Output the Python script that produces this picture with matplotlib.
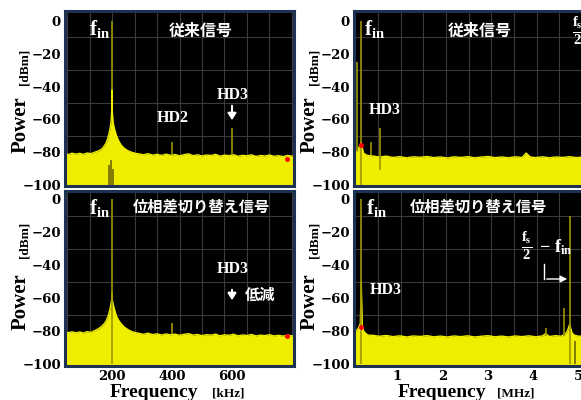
import numpy as np
import matplotlib
matplotlib.use('Agg')
import matplotlib.pyplot as plt

plt.rcParams['mathtext.fontset'] = 'custom'
plt.rcParams['mathtext.rm'] = 'Liberation Serif:bold'
plt.rcParams['mathtext.it'] = 'Liberation Serif:bold'
plt.rcParams['mathtext.bf'] = 'Liberation Serif:bold'
plt.rcParams['mathtext.default'] = 'rm'

# ---- data ----
# left column (kHz): skirt around fin + noise floor
left_skirt_f = [43, 55, 67, 80, 92, 105, 117, 130, 142, 155, 165, 173, 180, 186, 190, 194, 197, 199, 200, 201,
                203, 206, 210, 215, 222, 230, 240, 252, 265, 278]
left_floor_f = [290, 305, 320, 335, 350, 365, 380, 395, 410, 425, 440, 455, 470, 485, 500, 515, 530, 545, 560, 575,
                590, 605, 620, 635, 650, 665, 680, 695, 710, 725, 740, 755, 770, 785, 800, 807]
tl_skirt_p = [-80.8, -81.4, -80.6, -81.2, -80.7, -81.3, -80.5, -80.9, -80.0, -79.2, -78.2, -76.5, -74.5, -71.5, -68.5, -65, -61, -55, -42, -55,
              -61, -64, -67, -70, -73, -75.5, -77.5, -79, -80, -80.7]
tl_floor_p = [-81.0, -81.6, -80.9, -81.8, -81.3, -82.0, -81.2, -81.9, -81.4, -82.2, -81.5, -81.0, -82.1, -81.6, -82.3, -81.7, -82.0, -81.3, -82.4, -81.8,
              -82.1, -81.5, -82.5, -81.9, -82.2, -81.6, -82.6, -82.0, -82.3, -81.7, -82.5, -82.1, -82.7, -82.0, -82.4, -82.3]
bl_skirt_p = [-80.4, -81.0, -80.5, -81.1, -80.6, -81.2, -80.4, -80.8, -79.8, -78.6, -77.2, -75.8, -74, -71.5, -69, -66, -63, -61, -57, -61,
              -63, -65.5, -68, -71, -73.5, -75.5, -77.5, -79, -80.3, -81]
bl_floor_p = [-81.4, -82.0, -81.3, -82.2, -81.7, -82.4, -81.8, -82.3, -81.9, -82.6, -82.0, -81.6, -82.5, -82.1, -82.8, -82.2, -82.5, -81.9, -82.9, -82.3,
              -82.6, -82.0, -82.9, -82.4, -82.7, -82.1, -83.0, -82.5, -82.8, -82.2, -83.0, -82.6, -83.1, -82.5, -82.9, -83.0]

# right column (MHz)
right_skirt_f = [0.04, 0.08, 0.12, 0.15, 0.18, 0.2, 0.22, 0.25, 0.3, 0.35]
tr_floor_f = [0.45, 0.6, 0.75, 0.9, 1.05, 1.2, 1.35, 1.5, 1.65, 1.8, 1.95, 2.1, 2.25, 2.4, 2.55, 2.7, 2.85, 3.0, 3.15, 3.3,
              3.45, 3.6, 3.75, 3.84, 3.93, 4.05, 4.2, 4.35, 4.5, 4.65, 4.8, 4.95, 5.1, 5.25, 5.47]
tr_skirt_p = [-80, -79.5, -79, -77, -75, -74, -77, -80.5, -81.5, -82]
tr_floor_p = [-82.3, -82.9, -82.4, -83.2, -82.7, -83.4, -82.8, -83.1, -82.6, -83.3, -82.9, -83.5, -82.8, -83.2, -82.7, -83.4, -83.0, -82.6, -83.3, -82.9,
              -83.4, -82.8, -83.2, -80.5, -82.9, -83.3, -82.8, -83.4, -82.9, -83.2, -82.7, -83.3, -82.9, -83.2, -83.0]
br_floor_f = [0.45, 0.6, 0.75, 0.9, 1.05, 1.2, 1.35, 1.5, 1.65, 1.8, 1.95, 2.1, 2.25, 2.4, 2.55, 2.7, 2.85, 3.0, 3.15, 3.3,
              3.45, 3.6, 3.75, 3.9, 4.05, 4.2, 4.27, 4.35, 4.5, 4.6, 4.7, 4.75, 4.78, 4.8, 4.82, 4.85, 4.9, 5.0, 5.15, 5.3, 5.47]
br_skirt_p = [-81, -80, -79, -77.5, -75.5, -50, -76, -80, -81.5, -82.5]
br_floor_p = [-82.6, -83.2, -82.7, -83.4, -82.9, -83.6, -83.0, -83.3, -82.8, -83.5, -83.1, -83.6, -83.0, -83.4, -82.9, -83.6, -83.2, -82.8, -83.5, -83.1,
              -83.6, -83.0, -83.4, -82.9, -83.5, -83.0, -81.5, -83.3, -82.8, -83.2, -82, -80, -77.5, -76, -78, -81, -82.5, -83.2, -82.8, -83.3, -83.0]

# spectral lines (freq, bottom, top)
tl_lines = [(200, -42, 0), (400, -81.5, -74), (600, -82, -65)]
tl_dark = [(190, -100, -88), (196, -100, -85), (204, -100, -90)]
bl_lines = [(200, -100, 0), (400, -82, -75.3)]
tr_lines = [(0.2, -100, 0), (0.1, -79, -25), (0.42, -82, -74), (0.62, -91, -65)]
br_lines = [(0.2, -100, 0), (4.8, -100, -10), (4.67, -83, -66), (4.27, -83, -78)]
br_dark = [(4.92, -100, -86)]
markers = {'tl': (785, -84), 'bl': (785, -83), 'tr': (0.19, -75.5), 'br': (0.19, -77.5)}

y_ticks = [0, -20, -40, -60, -80, -100]
left_xticks = [200, 400, 600]
right_xticks = [1, 2, 3, 4, 5]

YELLOW = '#f0ee00'
OLIVE = '#9c9400'
DARK = '#6e6800'
NAVY = '#1d3152'
W, H = 581, 400


def box(x0, y0, x1, y1):
    return [x0 / W, 1 - y1 / H, (x1 - x0) / W, (y1 - y0) / H]


def px(x, y):
    return x / W, 1 - y / H


fig = plt.figure(figsize=(5.81, 4.0), dpi=100)

panels = {
    'tl': (box(65, 11, 294, 186), left_skirt_f + left_floor_f, tl_skirt_p + tl_floor_p, tl_lines, tl_dark,
           (43.3, 806.7), (-100.6, 6.1)),
    'bl': (box(65, 191, 294, 366), left_skirt_f + left_floor_f, bl_skirt_p + bl_floor_p, bl_lines, [],
           (43.3, 806.7), (-101.2, 4.85)),
    'tr': (box(354, 11, 600, 186), right_skirt_f + tr_floor_f, tr_skirt_p + tr_floor_p, tr_lines, [],
           (0.04, 5.47), (-100.6, 6.1)),
    'br': (box(354, 191, 600, 366), right_skirt_f + br_floor_f, br_skirt_p + br_floor_p, br_lines, br_dark,
           (0.04, 5.47), (-101.2, 4.85)),
}

for key, (pos, f, p, lines, dark, xl, yl) in panels.items():
    ax = fig.add_axes(pos)
    ax.set_facecolor('black')
    ax.fill_between(f, -110, p, color=YELLOW, lw=0, zorder=2)
    ax.plot(f, p, color=YELLOW, lw=1.0, zorder=2)
    for fx, lo, hi in lines:
        ax.vlines(fx, lo, hi, color=OLIVE, lw=1.2, zorder=3)
    for fx, lo, hi in dark:
        ax.vlines(fx, lo, hi, color=DARK, lw=1.2, zorder=3)
    mx, my = markers[key]
    ax.plot(mx, my, 'o', color='red', ms=2.5, zorder=4)
    ax.set_xlim(*xl)
    ax.set_ylim(*yl)
    if key in ('tl', 'bl'):
        ax.set_xticks(np.arange(50, 801, 75), minor=True)
    else:
        ax.set_xticks(np.arange(0.07, 5.5, 0.5), minor=True)
    ax.set_yticks(np.arange(-100, 1, 10), minor=True)
    ax.grid(which='minor', color='#3a3a3a', lw=0.8, zorder=1)
    ax.set_yticks(y_ticks)
    ax.set_yticklabels([str(v).replace('-', '\u2212') for v in y_ticks],
                       family='DejaVu Serif', fontweight='bold', fontsize=9.5)
    if key == 'bl':
        ax.set_xticks(left_xticks)
        ax.set_xticklabels([str(v) for v in left_xticks], family='DejaVu Serif', fontweight='bold', fontsize=9.5)
    elif key == 'br':
        ax.set_xticks(right_xticks)
        ax.set_xticklabels([str(v) for v in right_xticks], family='DejaVu Serif', fontweight='bold', fontsize=9.5)
    else:
        ax.set_xticks([])
    ax.tick_params(which='both', length=0, pad=3)
    for s in ax.spines.values():
        s.set_color(NAVY)
        s.set_linewidth(2.2)

# axis labels
serif = 'Liberation Serif'
for x0, yc_pow, yc_dbm in [(21, 125, 67), (310, 125, 67), (21, 302, 240), (310, 302, 240)]:
    fig.text(*px(x0, yc_pow), 'Power', rotation=90, ha='center', va='center',
             family=serif, fontweight='bold', fontsize=15)
    fig.text(*px(x0 + 4, yc_dbm), '[dBm]', rotation=90, ha='center', va='center',
             family=serif, fontweight='bold', fontsize=9.5)
for xc, unit, xu in [(154, '[kHz]', 228), (442, '[MHz]', 516)]:
    fig.text(*px(xc, 397), 'Frequency', ha='center', va='baseline',
             family=serif, fontweight='bold', fontsize=14)
    fig.text(*px(xu, 396), unit, ha='center', va='baseline',
             family=serif, fontweight='bold', fontsize=9.5)

cjk = ['Noto Sans CJK JP', 'DejaVu Sans']
white = 'white'


def arrow(p0, p1, lw=1.5, hw=2.5):
    fig.patches.append(matplotlib.patches.FancyArrowPatch(px(*p0), px(*p1), transform=fig.transFigure,
                                                          arrowstyle=f'-|>,head_length=4,head_width={hw}',
                                                          color=white, lw=lw))


# top-left
fig.text(*px(100, 29), r'$f_{in}$', color=white, ha='center', va='center', fontsize=15)
fig.text(*px(201, 31), '従来信号', color=white, ha='center', va='center', family=cjk, fontweight='bold', fontsize=11.5)
fig.text(*px(173, 118), 'HD2', color=white, ha='center', va='center', family=serif, fontweight='bold', fontsize=11.5)
fig.text(*px(233, 95), 'HD3', color=white, ha='center', va='center', family=serif, fontweight='bold', fontsize=11.5)
arrow((232, 103), (232, 123))

# top-right
fig.text(*px(375, 29), r'$f_{in}$', color=white, ha='center', va='center', fontsize=15)
fig.text(*px(480, 31), '従来信号', color=white, ha='center', va='center', family=cjk, fontweight='bold', fontsize=11.5)
fig.text(*px(385, 110), 'HD3', color=white, ha='center', va='center', family=serif, fontweight='bold', fontsize=11.5)
fig.text(*px(578, 31), r'$\frac{f_s}{2}$', color=white, ha='center', va='center', fontsize=15)

# bottom-left
fig.text(*px(100, 208), r'$f_{in}$', color=white, ha='center', va='center', fontsize=15)
fig.text(*px(201, 207), '位相差切り替え信号', color=white, ha='center', va='center', family=cjk, fontweight='bold', fontsize=11)
fig.text(*px(233, 269), 'HD3', color=white, ha='center', va='center', family=serif, fontweight='bold', fontsize=11.5)
arrow((232, 287), (232, 303))
fig.text(*px(260, 295), '低減', color=white, ha='center', va='center', family=cjk, fontweight='bold', fontsize=11)

# bottom-right
fig.text(*px(377, 208), r'$f_{in}$', color=white, ha='center', va='center', fontsize=15)
fig.text(*px(478, 207), '位相差切り替え信号', color=white, ha='center', va='center', family=cjk, fontweight='bold', fontsize=11)
fig.text(*px(386, 290), 'HD3', color=white, ha='center', va='center', family=serif, fontweight='bold', fontsize=11.5)
fig.text(*px(527, 246), r'$\frac{f_s}{2}$', color=white, ha='center', va='center', fontsize=15)
fig.text(*px(556, 247), r'$-\ f_{in}$', color=white, ha='center', va='center', fontsize=13)
fig.add_artist(plt.Line2D([544 / W, 544 / W], [1 - 264 / H, 1 - 279 / H], color=white, lw=1))
arrow((544, 279), (570, 279), lw=1, hw=2)

fig.savefig('out.png', dpi=100)
